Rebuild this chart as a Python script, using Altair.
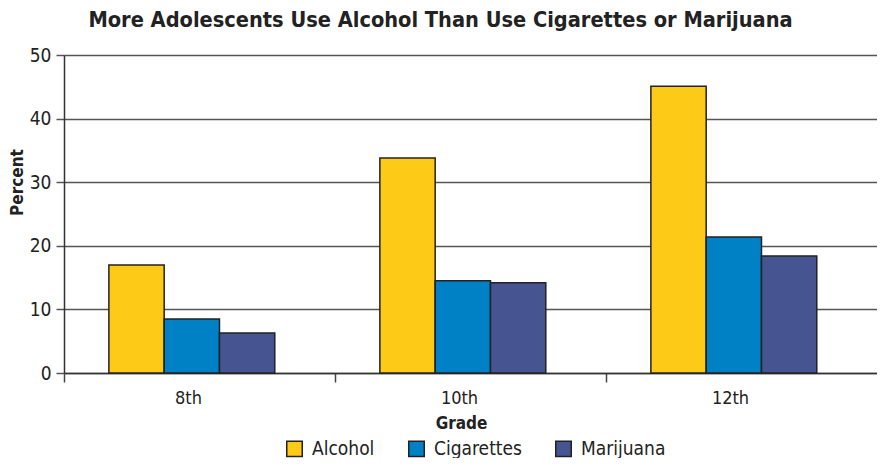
import altair as alt
import pandas as pd

grades = ["8th", "10th", "12th"]
substances = ["Alcohol", "Cigarettes", "Marijuana"]
alcohol = [17.0, 33.8, 45.1]
cigarettes = [8.5, 14.5, 21.4]
marijuana = [6.3, 14.2, 18.4]
colors = ["#FCCA17", "#0081C6", "#465592"]
y_ticks = [0, 10, 20, 30, 40, 50]

rows = []
for i, g in enumerate(grades):
    for s, vals in zip(substances, [alcohol, cigarettes, marijuana]):
        rows.append({"Grade": g, "Substance": s, "Percent": vals[i]})
df = pd.DataFrame(rows)

FONT = "Liberation Sans Narrow, DejaVu Sans Condensed, Arial Narrow, sans-serif"

chart = alt.Chart(df).mark_bar(stroke="#222222", strokeWidth=1.5).encode(
    x=alt.X(
        "Grade:N", sort=grades,
        scale=alt.Scale(paddingInner=0, paddingOuter=0),
        axis=alt.Axis(
            title="Grade", labelAngle=0, bandPosition=0,
            labelFont=FONT, labelFontSize=18, labelColor="#222",
            labelOffset=-11, labelPadding=7,
            titleFont=FONT, titleFontSize=17, titleFontWeight="bold", titleColor="#222",
            titleX=397, titlePadding=8,
            domainColor="#333", domainWidth=1.5,
            tickColor="#444", tickWidth=1.5, tickSize=9,
        ),
    ),
    xOffset=alt.XOffset(
        "Substance:N", sort=substances,
        scale=alt.Scale(paddingInner=0, paddingOuter=0.95, align=0.427),
    ),
    y=alt.Y(
        "Percent:Q",
        scale=alt.Scale(domain=[0, 50], nice=False),
        axis=alt.Axis(
            title="Percent", values=y_ticks,
            labelFont=FONT, labelFontSize=19, labelColor="#222", labelPadding=5,
            titleFont=FONT, titleFontSize=17, titleFontWeight="bold", titleColor="#222",
            titleAngle=-90, titleAlign="center", titleBaseline="middle",
            titleX=-47, titleY=127,
            grid=True, gridColor="#555555", gridWidth=1.5,
            domainColor="#333", domainWidth=1.5,
            tickColor="#555", tickWidth=1.5, tickSize=8,
        ),
    ),
    color=alt.Color(
        "Substance:N", sort=substances,
        scale=alt.Scale(domain=substances, range=colors),
        legend=alt.Legend(
            orient="none", legendX=221, legendY=384, direction="horizontal",
            title=None, symbolType="square", symbolSize=240,
            symbolStrokeColor="#222", symbolStrokeWidth=1.5,
            labelFont=FONT, labelFontSize=19, labelColor="#222",
            columnPadding=30, labelOffset=8, padding=0,
        ),
    ),
).properties(
    width=813,
    height=318,
    padding={"left": 56, "top": 47, "right": 0, "bottom": 85},
    autosize=alt.AutoSizeParams(type="none"),
    title=alt.TitleParams(
        "More Adolescents Use Alcohol Than Use Cigarettes or Marijuana",
        font=FONT, fontSize=21.6, fontWeight="bold", color="#222",
        anchor="middle", dx=-30, offset=14,
    ),
).configure_view(stroke=None).configure_axis(labelFlush=False)

chart.save("out.html", embed_options={"renderer": "svg", "actions": False})
